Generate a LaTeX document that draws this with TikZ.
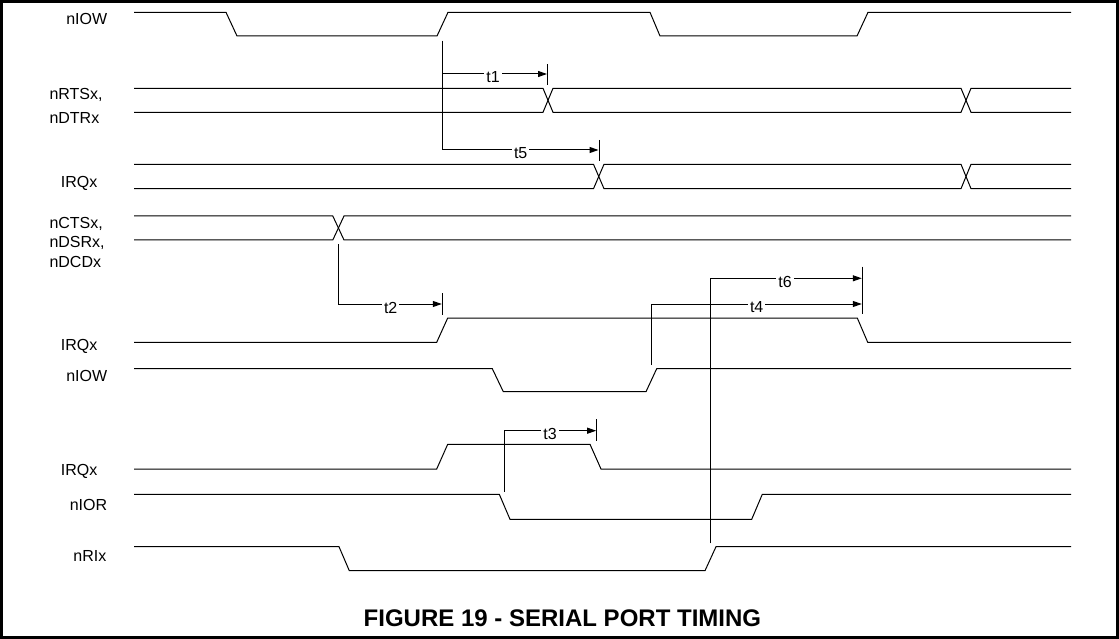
\documentclass[tikz,border=0pt]{standalone}
\usepackage{fontspec}
\setmainfont{Liberation Sans}
\usetikzlibrary{arrows.meta}
\begin{document}
\begin{tikzpicture}[x=1pt,y=-1pt,
  sig/.style={line width=1pt,line join=miter},
  dim/.style={line width=1pt},
  dimarrow/.style={line width=1pt,-{Triangle[length=9pt,width=6pt]}},
  lbl/.style={anchor=base west,inner sep=0pt,font=\fontsize{16}{19}\selectfont},
  tlbl/.style={fill=white,inner xsep=2pt,inner ysep=1pt,font=\fontsize{16}{19}\selectfont},
  ttl/.style={anchor=base,inner sep=0pt,font=\fontsize{24}{28}\selectfont\bfseries}]
\useasboundingbox (0,0) rectangle (1119,639);
\draw[line width=3pt] (1.5,1.5) rectangle (1117.5,637.5);

% signal names
\node[lbl] (l1) at (66.1,24.5) {nIOW};
\node[lbl] (l2a) at (49.3,100) {nRTSx,};
\node[lbl] (l2b) at (49.3,123.3) {nDTRx};
\node[lbl] (l3) at (60.7,187.3) {IRQx};
\node[lbl] (l4a) at (49.3,228.3) {nCTSx,};
\node[lbl] (l4b) at (49.3,247.5) {nDSRx,};
\node[lbl] (l4c) at (49.3,267) {nDCDx};
\node[lbl] (l5) at (60.7,350) {IRQx};
\node[lbl] (l6) at (66.1,381.7) {nIOW};
\node[lbl] (l7) at (60.7,475) {IRQx};
\node[lbl] (l8) at (69.6,510) {nIOR};
\node[lbl] (l9) at (73.2,561.7) {nRIx};

% waveforms
\draw[sig] (134,12.3) -- (226,12.3) -- (237,36) -- (437,36) -- (448,12.3) -- (650,12.3) -- (660,36) -- (857,36) -- (868,12.3) -- (1071,12.3);
\draw[sig] (134,88.3) -- (543,88.3) -- (553,112.3) -- (961,112.3) -- (971,88.3) -- (1071,88.3);
\draw[sig] (134,112.3) -- (543,112.3) -- (553,88.3) -- (961,88.3) -- (971,112.3) -- (1071,112.3);
\draw[sig] (134,164.3) -- (593.5,164.3) -- (604,188.7) -- (961,188.7) -- (971,164.3) -- (1071,164.3);
\draw[sig] (134,188.7) -- (593.5,188.7) -- (604,164.3) -- (961,164.3) -- (971,188.7) -- (1071,188.7);
\draw[sig] (134,216) -- (332.8,216) -- (344,240) -- (1071,240);
\draw[sig] (134,240) -- (332.8,240) -- (344,216) -- (1071,216);
\draw[sig] (134,342.3) -- (436.7,342.3) -- (447.7,318) -- (857.3,318) -- (867.7,342.3) -- (1071,342.3);
\draw[sig] (134,368.7) -- (492.3,368.7) -- (503.3,391.7) -- (646,391.7) -- (656.7,368.7) -- (1071,368.7);
\draw[sig] (134,469) -- (436.7,469) -- (447.7,444.3) -- (590,444.3) -- (601,469) -- (1071,469);
\draw[sig] (134,494.3) -- (499.3,494.3) -- (510,519.3) -- (751.7,519.3) -- (762.3,494.3) -- (1071,494.3);
\draw[sig] (134,546.7) -- (339,546.7) -- (349.3,570.7) -- (705,570.7) -- (716,546.7) -- (1071,546.7);

% timing references
\coordinate (s1) at (442.7,40.7);
\coordinate (e1) at (547,74);
\coordinate (k1a) at (547.3,64.3);
\coordinate (k1b) at (547.3,85);
\coordinate (e5) at (598.5,150);
\coordinate (k5a) at (599,140);
\coordinate (k5b) at (599,161);
\coordinate (s2) at (338.7,244);
\coordinate (e2) at (441.8,304);
\coordinate (k2a) at (442.3,293.3);
\coordinate (k2b) at (442.3,315);
\coordinate (s6) at (710,543.3);
\coordinate (e6) at (861.8,278.3);
\coordinate (s4) at (651,365);
\coordinate (e4) at (861.8,304);
\coordinate (k6a) at (862.3,266.7);
\coordinate (k6b) at (862.3,314.3);
\coordinate (s3) at (504.3,491.7);
\coordinate (e3) at (596.2,430.7);
\coordinate (k3a) at (596.7,419.3);
\coordinate (k3b) at (596.7,440.7);

\draw[dimarrow] (s1) |- (e5);
\draw[dimarrow] (s1 |- e1) -- (e1);
\draw[dim] (k1a) -- (k1b);
\draw[dim] (k5a) -- (k5b);
\draw[dimarrow] (s2) |- (e2);
\draw[dim] (k2a) -- (k2b);
\draw[dimarrow] (s6) |- (e6);
\draw[dimarrow] (s4) |- (e4);
\draw[dim] (k6a) -- (k6b);
\draw[dimarrow] (s3) |- (e3);
\draw[dim] (k3a) -- (k3b);

\node[tlbl] (t1) at (493,77.5) {t1};
\node[tlbl] (t5) at (520.7,153.5) {t5};
\node[tlbl] (t2) at (390.7,307.5) {t2};
\node[tlbl] (t6) at (785,282) {t6};
\node[tlbl] (t4) at (756.7,307.5) {t4};
\node[tlbl] (t3) at (550,434.3) {t3};

\node[ttl] (title) at (562.4,626.7) {FIGURE 19 - SERIAL PORT TIMING};
\end{tikzpicture}
\end{document}
